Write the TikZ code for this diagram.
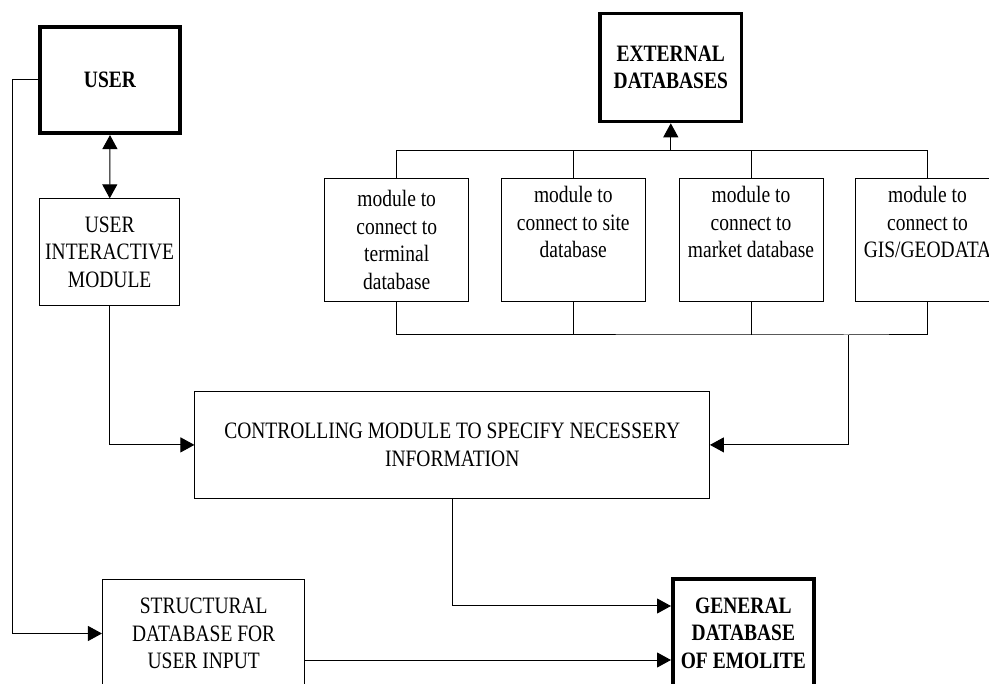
\documentclass[tikz,border=0pt]{standalone}
\usepackage{fontspec}
\setmainfont{Liberation Serif}[FakeStretch=0.83]
\usetikzlibrary{arrows.meta}

\tikzset{
  box/.style={draw=black, line width=1pt, inner sep=0pt, align=center,
    font=\fontsize{23.5}{27.5}\selectfont},
  heavybox/.style={box, line width=3.6pt, font=\fontsize{23.5}{27.5}\selectfont\bfseries},
  modbox/.style={box, minimum width=144pt, minimum height=122.4pt},
  link/.style={draw=black, line width=1pt},
  arr/.style={link, -{Triangle[length=14pt,width=15pt]}},
  dblarr/.style={link, {Triangle[length=14pt,width=15pt]}-{Triangle[length=14pt,width=15pt]}},
}

\begin{document}
\begin{tikzpicture}[x=1pt, y=-1pt]
  \useasboundingbox (0,0) rectangle (989,684);
  \clip (0,0) rectangle (989,684);

  % main blocks
  \node[heavybox, minimum width=140.5pt, minimum height=106.5pt] (user) at (110,80) {USER};
  \node[box, minimum width=140.3pt, minimum height=106.7pt] (uim) at (109.7,252.2)
    {USER\\INTERACTIVE\\MODULE};
  \node[heavybox, minimum width=141.5pt, minimum height=108pt] (ext) at (670.8,67.5)
    {EXTERNAL\\DATABASES};
  \node[box, minimum width=514.5pt, minimum height=107.3pt] (cm) at (452.2,444.9)
    {CONTROLLING MODULE TO SPECIFY NECESSERY\\INFORMATION};
  \node[box, minimum width=202.5pt, minimum height=108pt] (struct) at (203.7,633.5)
    {STRUCTURAL\\DATABASE FOR\\USER INPUT};
  \node[heavybox, minimum width=141.2pt, minimum height=108pt] (gdb) at (743.4,633)
    {GENERAL\\DATABASE\\OF EMOLITE};

  % connection modules (text set from the top line)
  \node[modbox] (m1) at (396.7,240) {module to\\connect to\\terminal\\database};
  \node[modbox] (m2) at (573.3,240) {module to\\connect to site\\database\\\strut};
  \node[modbox] (m3) at (751,240) {module to\\connect to\\market database\\\strut};
  \node[modbox] (m4) at (927.5,240) {module to\\connect to\\GIS/GEODATA\\\strut};

  % bus junctions
  \coordinate (bt) at (670.8,150.7);
  \coordinate (bb) at (848.3,335);
  \coordinate (lt) at (12,79.3);
  \coordinate (g1) at ([yshift=27pt]gdb.west);
  \coordinate (s2) at ([yshift=-26.5pt]struct.east);

  % upper bus to external databases
  \draw[link] (m1.north) |- (bt) -| (m4.north);
  \draw[link] (m2.north) -- (m2.north |- bt);
  \draw[link] (m3.north) -- (m3.north |- bt);
  \draw[arr] (bt) -- (ext.south);

  % lower bus to controlling module
  \draw[link] (m1.south) |- (bb) -| (m4.south);
  \draw[link] (m2.south) -- (m2.south |- bb);
  \draw[link] (m3.south) -- (m3.south |- bb);
  \draw[arr] (bb) |- (cm.east);

  % user side
  \draw[dblarr] (user.south) -- (uim.north);
  \draw[arr] (uim.south) |- (cm.west);
  \draw[arr] (user.west) -- (user.west -| lt) |- (struct.west);

  % into the general database
  \draw[arr] (cm.south) |- (g1);
  \draw[arr] (s2) -- (s2 -| gdb.west);
\end{tikzpicture}
\end{document}
